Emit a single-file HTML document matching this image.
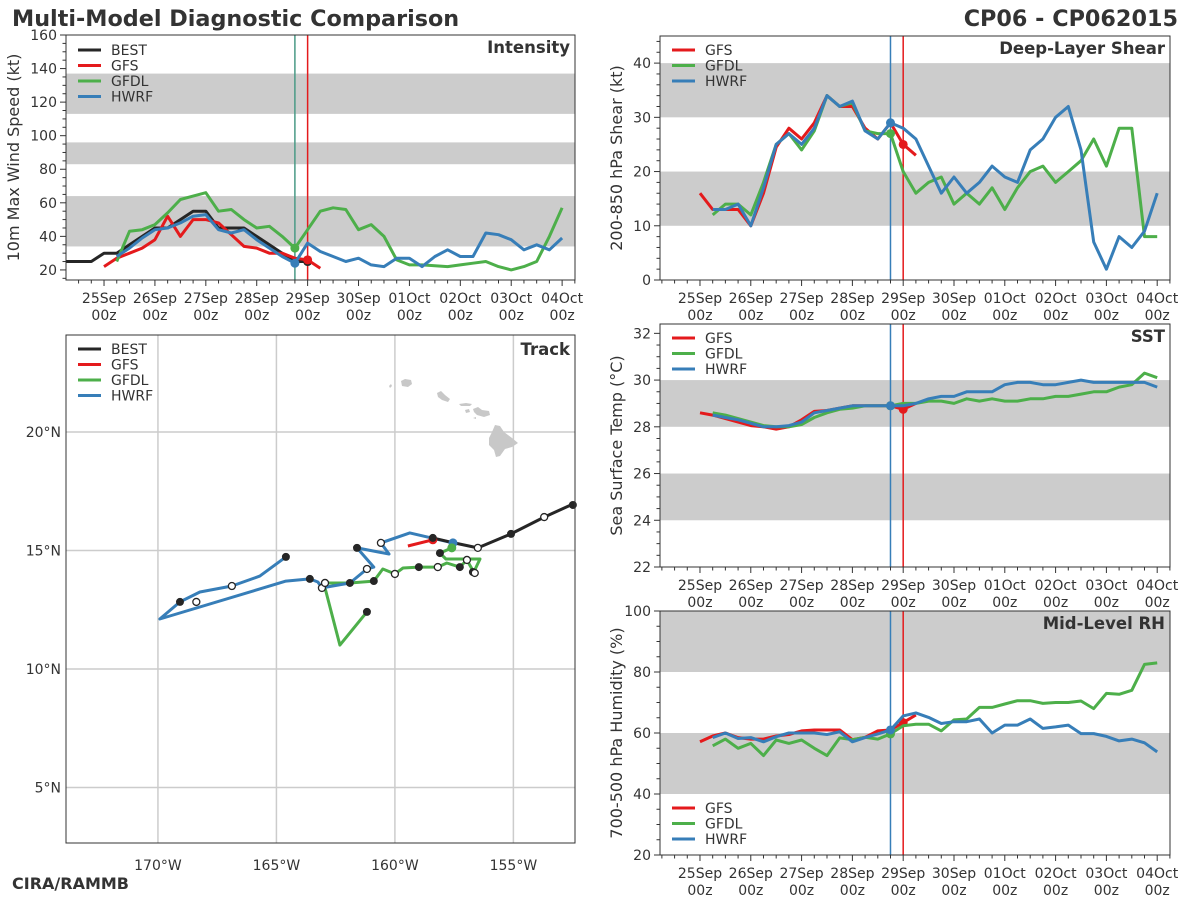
<!DOCTYPE html>
<html><head><meta charset="utf-8"><style>
html,body{margin:0;padding:0;background:#fff;}
svg{display:block;font-family:"DejaVu Sans","Liberation Sans",sans-serif;}
</style></head><body>
<svg id="chart" width="1200" height="900" viewBox="0 0 1200 900" xmlns="http://www.w3.org/2000/svg">
<text x="12" y="26" font-size="22.3" font-weight="bold" fill="#333">Multi-Model Diagnostic Comparison</text>
<text x="1178" y="26" font-size="22.3" font-weight="bold" fill="#333" text-anchor="end">CP06 - CP062015</text>
<text x="12" y="889" font-size="16" font-weight="bold" fill="#333">CIRA/RAMMB</text>
</svg>
<script>
// ---- time-series data (days since 25Sep 00z, 6-hourly) ----
const dayLabels = ["25Sep","26Sep","27Sep","28Sep","29Sep","30Sep","01Oct","02Oct","03Oct","04Oct"];
const bestStart = -0.75, gfsStart = 0, gfdlStart = 0.25, hwrfStart = 0.25;
const bestInt = [25,25,25,30,30,35,40,45,45,50,55,55,45,45,45,40,35,30,25,25];
const gfsInt = [22,27,30,33,38,52,40,50,50,48,41,34,33,30,30,27,26,21];
const gfdlInt = [25,43,44,47,54,62,64,66,55,56,50,45,46,40,33,44,55,57,56,44,47,40,26,23,23,22.5,22,23,24,25,22,20,22,25,40,57];
const hwrfInt = [28,33,39,44,45,48,52,53,44,42,44,38,33,28,24,36,31,28,25,27,23,22,27,27,22,28,32,28,28,42,41,38,32,35,32,39];
const gfsShr = [16,13,13,13,10,16,24.5,28,26,29,34,32,32,28,26,29,25,23];
const gfdlShr = [12,14,14,12,18,25,27,24,27.5,34,32,32.7,27.5,27,27,20,16,18,19,14,16,14,17,13,17,20,21,18,20,22,26,21,28,28,8,8];
const hwrfShr = [13,13,14,10,17,25,27,25,28,34,32,33,27.5,26,29,28,26,21,16,19,16,18,21,19,18,24,26,30,32,24,7,2,8,6,9,16];
const gfsSst = [28.6,28.5,28.35,28.2,28.05,28,27.9,28,28.3,28.66,28.7,28.8,28.9,28.9,28.9,28.9,28.75,29];
const gfdlSst = [28.6,28.5,28.35,28.2,28.05,28,28,28.1,28.4,28.6,28.75,28.8,28.9,28.9,28.9,29,29,29.1,29.1,29,29.2,29.1,29.2,29.1,29.1,29.2,29.2,29.3,29.3,29.4,29.5,29.5,29.7,29.8,30.3,30.1];
const hwrfSst = [28.5,28.4,28.3,28.15,28,28,28.05,28.2,28.6,28.7,28.8,28.9,28.9,28.9,28.9,28.9,29,29.2,29.3,29.3,29.5,29.5,29.5,29.8,29.9,29.9,29.8,29.8,29.9,30,29.9,29.9,29.9,29.9,29.9,29.7];
const gfsRh = [57.1,59,60,58.5,58,58,59,59.5,60.7,61,61,61,57.8,58.6,60.7,61,63.4,65.9];
const gfdlRh = [55.8,58,55,56.6,52.6,57.7,56.6,57.7,55,52.6,58.4,57.8,58.6,58,59.7,62.4,62.9,62.9,60.7,64.3,64.6,68.4,68.4,69.5,70.6,70.6,69.7,70,70,70.5,68,73,72.7,74,82.5,83];
const hwrfRh = [58.5,60,58.2,58.5,57.1,58.8,60,60,60,59.5,60.4,57.1,58.5,59.7,61,65.6,66.6,65.1,63.1,63.7,63.7,64.6,60,62.6,62.6,64.6,61.5,62,62.6,59.8,59.8,58.9,57.4,58,56.8,53.8];
const intBands = [[34,64],[83,96],[113,137]];
const shrBands = [[10,20],[30,40]];
const sstBands = [[24,26],[28,30]];
const rhBands = [[40,60],[80,100]];
const nowT = 3.75, fcstT = 4.0;
// ---- track data (lon, lat) ----
const bestTrack = [[-152.4,17.0],[-153.7,16.41],[-155.1,15.7],[-156.5,15.11],[-157.5,15.32],[-158.4,15.53]];
const gfsTrack = [[-158.4,15.45],[-159.45,15.19]];
const hwrfTrack = [[-157.55,15.32],[-159.37,15.74],[-160.59,15.32],[-160.25,14.85],[-161.6,15.11],[-160.89,14.3],[-161.18,14.22],[-161.9,13.63],[-163.08,13.42],[-163.25,13.67],[-163.59,13.8],[-164.6,13.71],[-169.92,12.11],[-169.07,12.83],[-168.23,13.25],[-166.88,13.5],[-165.7,13.92],[-164.6,14.73]];
const gfdlTrack = [[-157.6,15.11],[-158.1,14.89],[-157.85,14.64],[-156.41,14.64],[-156.67,14.09],[-156.96,14.6],[-157.26,14.3],[-157.81,14.47],[-158.19,14.3],[-158.99,14.3],[-159.66,14.26],[-160.0,14.01],[-160.51,14.22],[-160.89,13.71],[-161.9,13.63],[-162.95,13.63],[-162.95,13.42],[-162.32,11.01],[-161.18,12.41]];
const filledMarks = [[-152.49,16.92],[-155.1,15.7],[-158.4,15.53],[-158.1,14.89],[-156.71,14.09],[-157.26,14.3],[-158.99,14.3],[-160.89,13.71],[-161.9,13.63],[-161.6,15.11],[-163.59,13.8],[-164.6,14.73],[-169.07,12.83],[-161.18,12.41]];
const openMarks = [[-153.7,16.41],[-156.5,15.11],[-160.59,15.32],[-161.18,14.22],[-163.08,13.42],[-162.95,13.63],[-156.96,14.6],[-158.19,14.3],[-160.0,14.01],[-166.88,13.5],[-168.38,12.83],[-156.63,14.05]];
const lonTicks = [-170,-165,-160,-155];
const latTicks = [5,10,15,20];

const C = {best:"#262626",gfs:"#e41a1c",gfdl:"#4daf4a",hwrf:"#377eb8"};
const svg = document.getElementById("chart");
const NS = "http://www.w3.org/2000/svg";
function mk(tag, attrs, parent){
  const e = document.createElementNS(NS, tag);
  for (const k in attrs) e.setAttribute(k, attrs[k]);
  (parent||svg).appendChild(e);
  return e;
}
function txt(s, attrs, parent){ const e = mk("text", attrs, parent); e.textContent = s; return e; }

function panel(p){
  const g = mk("g", {});
  
  
  const X = t => p.x0 + (t - p.t0) / (p.t1 - p.t0) * (p.x1 - p.x0);
  const Y = v => p.y1 - (v - p.v0) / (p.v1 - p.v0) * (p.y1 - p.y0);
  p.bands.forEach(b => {
    const r = mk("rect", {x:p.x0, y:Y(Math.min(b[1],p.v1)), width:p.x1-p.x0, height:Y(b[0])-Y(Math.min(b[1],p.v1)), fill:"#cccccc"}, g);
    
    
  });
  for (let v = p.v0m; v <= p.v1 + 1e-9; v += p.minor) {
    const y = Y(v);
    if (y < p.y0 - 0.5) continue;
    const major = Math.abs(Math.round((v - p.majorBase)/p.major)*p.major - (v - p.majorBase)) < 1e-6;
    mk("line", {x1:p.x0-(major?6:3.5), x2:p.x0, y1:y, y2:y, stroke:"#333", "stroke-width":1}, g);
    if (major) {
      const t = txt(String(Math.round(v)), {x:p.x0-9, y:y+5, "font-size":14, fill:"#333", "text-anchor":"end"}, g);
      
      
    }
  }
  for (let i = -3; i <= 37; i++) {
    const t = i * 0.25, x = X(t);
    if (x < p.x0 || x > p.x1) continue;
    const major = i % 4 === 0;
    mk("line", {x1:x, x2:x, y1:p.y1, y2:p.y1+(major?6:3.5), stroke:"#333", "stroke-width":1}, g);
    if (major) {
      const a = txt(dayLabels[i/4], {x:x, y:p.y1+23, "font-size":14, fill:"#333", "text-anchor":"middle"}, g);
      
      
      const b = txt("00z", {x:x, y:p.y1+40, "font-size":14, fill:"#333", "text-anchor":"middle"}, g);
      
      
    }
  }
  const vl1 = mk("line", {x1:X(nowT), x2:X(nowT), y1:p.y0, y2:p.y1, stroke:p.nowColor||C.hwrf, "stroke-width":1.5}, g);
  
  
  const vl2 = mk("line", {x1:X(fcstT), x2:X(fcstT), y1:p.y0, y2:p.y1, stroke:C.gfs, "stroke-width":1.5}, g);
  
  
  p.series.forEach(s => {
    const pts = s.vals.map((v,i) => X(s.start + i*0.25).toFixed(1) + "," + Y(v).toFixed(1)).join(" ");
    const pl = mk("polyline", {points:pts, fill:"none", stroke:C[s.key], "stroke-width":3, "stroke-linejoin":"round"}, g);
    
    
    if (s.dotT !== undefined) {
      const idx = Math.round((s.dotT - s.start)/0.25);
      const c = mk("circle", {cx:X(s.dotT), cy:Y(s.vals[idx]), r:4.5, fill:C[s.key]}, g);
      
      
    }
  });
  mk("rect", {x:p.x0, y:p.y0, width:p.x1-p.x0, height:p.y1-p.y0, fill:"none", stroke:"#333", "stroke-width":1}, g);
  const tl = txt(p.title, {x:p.x1-5, y:p.y0+18, "font-size":16.5, "font-weight":"bold", fill:"#333", "text-anchor":"end"}, g);
  
  
  const cy = (p.y0+p.y1)/2, cx = p.ytx;
  const yt = txt(p.ytitle, {x:cx, y:cy, "font-size":16, fill:"#333", "text-anchor":"middle", transform:`rotate(-90 ${cx} ${cy})`}, g);
  
  
  legend(g, p.x0+12, p.legY, p.series.map(s=>s.key));
}
function legend(g, x, y, keys){
  const names = {best:"BEST",gfs:"GFS",gfdl:"GFDL",hwrf:"HWRF"};
  keys.forEach((k,i) => {
    const yy = y + i*15.5;
    const l = mk("line", {x1:x, x2:x+23, y1:yy, y2:yy, stroke:C[k], "stroke-width":3}, g);
    
    
    const t = txt(names[k], {x:x+33, y:yy+5, "font-size":14, fill:"#333"}, g);
    
    
  });
}

panel({name:"intensity-panel", title:"Intensity", ytitle:"10m Max Wind Speed (kt)", ytx:19,
  x0:66,x1:575,y0:35,y1:280,t0:-0.747,t1:9.253,v0:14,v1:160,v0m:15,minor:5,major:20,majorBase:0,
  bands:intBands, legY:50, nowColor:"#4a9a86",
  series:[{key:"best",vals:bestInt,start:bestStart,dotT:4},{key:"gfs",vals:gfsInt,start:gfsStart,dotT:4},
          {key:"gfdl",vals:gfdlInt,start:gfdlStart,dotT:3.75},{key:"hwrf",vals:hwrfInt,start:hwrfStart,dotT:3.75}]});
panel({name:"shear-panel", title:"Deep-Layer Shear", ytitle:"200-850 hPa Shear (kt)", ytx:622,
  x0:660,x1:1170,y0:36,y1:280,t0:-0.787,t1:9.252,v0:0,v1:45,v0m:0,minor:2,major:10,majorBase:0,
  bands:shrBands, legY:50,
  series:[{key:"gfs",vals:gfsShr,start:gfsStart,dotT:4},{key:"gfdl",vals:gfdlShr,start:gfdlStart,dotT:3.75},{key:"hwrf",vals:hwrfShr,start:hwrfStart,dotT:3.75}]});
panel({name:"sst-panel", title:"SST", ytitle:"Sea Surface Temp (°C)", ytx:622,
  x0:660,x1:1170,y0:324,y1:567,t0:-0.787,t1:9.252,v0:22,v1:32.4,v0m:22,minor:0.5,major:2,majorBase:22,
  bands:sstBands, legY:338,
  series:[{key:"gfs",vals:gfsSst,start:gfsStart,dotT:4},{key:"gfdl",vals:gfdlSst,start:gfdlStart,dotT:3.75},{key:"hwrf",vals:hwrfSst,start:hwrfStart,dotT:3.75}]});
panel({name:"rh-panel", title:"Mid-Level RH", ytitle:"700-500 hPa Humidity (%)", ytx:622,
  x0:660,x1:1170,y0:611,y1:855,t0:-0.787,t1:9.252,v0:20,v1:100,v0m:20,minor:5,major:20,majorBase:0,
  bands:rhBands, legY:808,
  series:[{key:"gfs",vals:gfsRh,start:gfsStart,dotT:4},{key:"gfdl",vals:gfdlRh,start:gfdlStart,dotT:3.75},{key:"hwrf",vals:hwrfRh,start:hwrfStart,dotT:3.75}]});

(function(){
  const x0=66,x1=575,y0=335,y1=843, lon0=-173.88, lon1=-152.4, lat0=2.66, lat1=24.09;
  const X = lo => x0 + (lo-lon0)/(lon1-lon0)*(x1-x0);
  const Y = la => y1 - (la-lat0)/(lat1-lat0)*(y1-y0);
  const g = mk("g", {});
  
  
  lonTicks.forEach(lo => {
    mk("line", {x1:X(lo),x2:X(lo),y1:y0,y2:y1,stroke:"#cccccc","stroke-width":1.5}, g);
    const t = txt((-lo)+"°W", {x:X(lo), y:y1+27, "font-size":14, fill:"#333", "text-anchor":"middle"}, g);
    
    
  });
  latTicks.forEach(la => {
    mk("line", {x1:x0,x2:x1,y1:Y(la),y2:Y(la),stroke:"#cccccc","stroke-width":1.5}, g);
    const t = txt(la+"°N", {x:x0-5, y:Y(la)+5, "font-size":14, fill:"#333", "text-anchor":"end"}, g);
    
    
  });
  const isl = mk("g", {fill:"#c8c8c8"}, g);
  
  
  ["M401,381 L405,379 L411,380 L412,384 L408,387 L402,386 Z",
   "M389,386 L391,384 L392,386 L390,388 Z",
   "M437,393 L441,391 L445,395 L450,399 L448,402 L442,400 L438,397 Z",
   "M459,404 L466,403 L472,404 L470,406 L461,406 Z",
   "M465,410 L469,409 L470,412 L466,413 Z",
   "M473,409 L478,407 L482,410 L489,411 L490,415 L484,417 L477,415 L474,412 Z",
   "M473,418 L476,417 L476,419 Z",
   "M495,425 L500,426 L504,432 L512,438 L518,443 L512,447 L505,449 L500,456 L496,457 L494,450 L489,445 L489,438 L492,432 Z"
  ].forEach(d => mk("path", {d:d}, isl));
  function track(key, pts){
    const pl = mk("polyline", {points:pts.map(p=>X(p[0]).toFixed(1)+","+Y(p[1]).toFixed(1)).join(" "), fill:"none", stroke:C[key], "stroke-width":3, "stroke-linejoin":"round"}, g);
    
    
  }
  track("gfdl", gfdlTrack);
  track("hwrf", hwrfTrack);
  track("best", bestTrack);
  track("gfs", gfsTrack);
  const gd = mk("circle", {cx:X(gfsTrack[0][0]), cy:Y(gfsTrack[0][1]), r:4.5, fill:C.gfs}, g);
  
  
  filledMarks.forEach(p => {
    const c = mk("circle", {cx:X(p[0]), cy:Y(p[1]), r:4, fill:"#262626"}, g);
    
    
  });
  openMarks.forEach(p => {
    const c = mk("circle", {cx:X(p[0]), cy:Y(p[1]), r:3.5, fill:"#fff", stroke:"#262626", "stroke-width":1.3}, g);
    
    
  });
  [["hwrf",hwrfTrack[0]],["gfdl",gfdlTrack[0]]].forEach(a => {
    const c = mk("circle", {cx:X(a[1][0]), cy:Y(a[1][1]), r:4.5, fill:C[a[0]]}, g);
    
    
  });
  mk("rect", {x:x0,y:y0,width:x1-x0,height:y1-y0,fill:"none",stroke:"#333","stroke-width":1}, g);
  const tl = txt("Track", {x:x1-5, y:y0+20, "font-size":16.5, "font-weight":"bold", fill:"#333", "text-anchor":"end"}, g);
  
  
  legend(g, x0+12, 349, ["best","gfs","gfdl","hwrf"]);
})();
</script>
</body></html>
